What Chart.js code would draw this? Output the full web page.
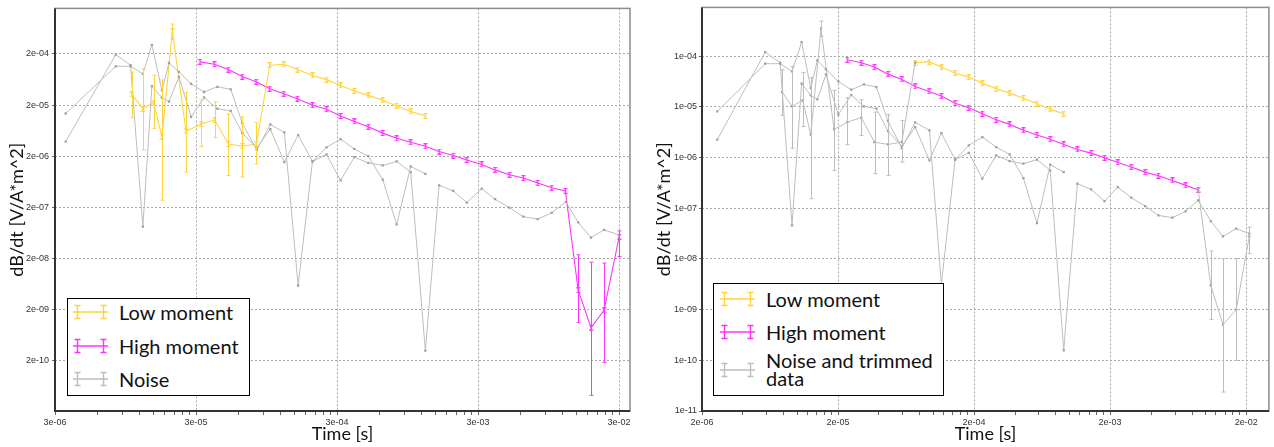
<!DOCTYPE html>
<html>
<head>
<meta charset="utf-8">
<script src="https://cdn.jsdelivr.net/npm/chart.js@4.4.1/dist/chart.umd.min.js"></script>
<style>
  body { margin: 0; background: #fff; width: 1274px; height: 447px; overflow: hidden; position: relative; }
  canvas { position: absolute; top: 0; }
  #chartLeft { left: 0; }
  #chartRight { left: 637px; }
  .legend { position: absolute; background: #fff; border: 1.5px solid #000; box-sizing: border-box;
            font-family: Lato, "Open Sans", sans-serif; font-size: 20px; color: #111; }
  .legend svg { position: absolute; }
  .legend .txt { position: absolute; line-height: 20px; white-space: nowrap; }
</style>
</head>
<body>
<canvas id="chartLeft" width="637" height="447"></canvas>
<canvas id="chartRight" width="637" height="447"></canvas>

<div class="legend" id="legendLeft" style="left:67px; top:298px; width:183px; height:98px;"></div>
<div class="legend" id="legendRight" style="left:713px; top:283px; width:231px; height:113px;"></div>

<script>
// ---- left panel: all data ----
const timeNoiseLeft = [3.57e-6, 8.09e-6, 1.03e-5, 1.26e-5, 1.46e-5, 1.72e-5, 1.93e-5, 2.27e-5, 2.77e-5, 3.42e-5,
  4.25e-5, 5.29e-5, 6.39e-5, 8.1e-5, 1.01e-4, 1.27e-4, 1.59e-4, 2.01e-4, 2.53e-4, 3.18e-4,
  3.98e-4, 5.0e-4, 6.33e-4, 7.95e-4, 1.0e-3, 1.27e-3, 1.59e-3, 2.0e-3, 2.5e-3, 3.19e-3,
  3.96e-3, 5.0e-3, 6.29e-3, 7.95e-3, 1.0e-2, 1.26e-2, 1.54e-2, 1.90e-2, 2.35e-2, 3.01e-2];
const noiseLmLeft = [1.37e-5, 1.15e-4, 1.15e-4, 8.18e-5, 3.03e-4, 3.87e-5, 1.34e-4, 8.94e-5, 5.23e-5, 3.61e-5,
  4.57e-5, 4.06e-5, 8.87e-6, 2.65e-6, 8.36e-6, 5.85e-6, 5.9e-9, 1.58e-6, 2.99e-6, 4.34e-6,
  2.77e-6, 2.0e-6, 6.93e-7, 9.27e-8, 1.26e-6, 9.06e-7];
const noiseHmLeft = [3.86e-6, 1.94e-4, 1.21e-4, 8.36e-8, 4.72e-5, 2.80e-5, 2.34e-5, 7.15e-5, 1.18e-5, 2.83e-5,
  1.71e-5, 1.54e-5, 5.66e-6, 2.90e-6, 6.78e-6, 1.53e-6, 5.19e-6, 1.58e-6, 2.16e-6, 6.75e-7,
  1.91e-6, 1.48e-6, 1.32e-6, 1.58e-6, 9.77e-7, 3.13e-10, 5.40e-7, 4.18e-7, 2.48e-7, 4.63e-7,
  2.88e-7, 1.98e-7, 1.31e-7, 1.18e-7, 1.56e-7, 2.56e-7, 1.01e-7, 5.12e-8, 7.21e-8, 5.77e-8];

const timeLmLeft = [1.05e-5, 1.26e-5, 1.50e-5, 1.72e-5, 2.04e-5, 2.55e-5, 3.26e-5, 4.06e-5, 5.10e-5, 6.39e-5,
  8.04e-5, 1.0e-4, 1.26e-4, 1.57e-4, 2.01e-4, 2.53e-4, 3.18e-4, 3.98e-4, 5.0e-4, 6.33e-4,
  7.95e-4, 1.0e-3, 1.27e-3];
const lowMomentLeft = [3.24e-5, 1.71e-5, 2.24e-5, 4.83e-6, 5.52e-4, 6.1e-6, 8.5e-6, 1.03e-5, 3.47e-6, 3.13e-6,
  3.47e-6, 1.21e-4, 1.26e-4, 9.9e-5, 7.6e-5, 6.3e-5, 4.85e-5, 3.77e-5, 3.10e-5, 2.48e-5,
  1.93e-5, 1.50e-5, 1.23e-5];
const lowErrLoLeft = [1.14e-5, 2.65e-6, 7.0e-6, 2.76e-7, 3.9e-4, 9.8e-7, 3.08e-6, 4.68e-6, 8.4e-7, 7.8e-7,
  1.42e-6, null, null, null, null, null, null, null, null, null, null, null, null];
const lowErrHiLeft = [8.8e-5, 1.02e-4, 7.7e-5, 6.2e-5, 7.7e-4, 3.5e-5, 2.52e-5, 2.31e-5, 1.32e-5, 1.18e-5,
  9.1e-6, null, null, null, null, null, null, null, null, null, null, null, null];

const timeHmLeft = [3.20e-5, 4.05e-5, 5.08e-5, 6.39e-5, 8.0e-5, 1.0e-4, 1.26e-4, 1.57e-4, 2.01e-4, 2.53e-4,
  3.18e-4, 3.98e-4, 5.0e-4, 6.33e-4, 7.95e-4, 1.0e-3, 1.27e-3, 1.59e-3, 2.0e-3, 2.5e-3,
  3.19e-3, 3.96e-3, 5.0e-3, 6.29e-3, 7.95e-3, 1.0e-2, 1.25e-2, 1.54e-2, 1.90e-2, 2.35e-2, 3.01e-2];
const highMomentLeft = [1.40e-4, 1.26e-4, 9.9e-5, 7.25e-5, 5.72e-5, 4.18e-5, 3.34e-5, 2.67e-5, 1.98e-5, 1.66e-5,
  1.23e-5, 9.57e-6, 7.55e-6, 5.66e-6, 4.48e-6, 3.74e-6, 3.13e-6, 2.47e-6, 2.06e-6, 1.69e-6,
  1.38e-6, 1.08e-6, 8.67e-7, 7.48e-7, 5.98e-7, 4.84e-7, 4.18e-7, 4.79e-9, 8.87e-10, 1.93e-9, 5.35e-8];
const highErrLoLeft = [null, null, null, null, null, null, null, null, null, null, null, null, null, null,
  null, null, null, null, null, null, null, null, null, null, null, null, null, 1.11e-9, 4.18e-11, 1.85e-10, 2.19e-8];
const highErrHiLeft = [null, null, null, null, null, null, null, null, null, null, null, null, null, null,
  null, null, null, null, null, null, null, null, null, null, null, null, null, 2.36e-8, 1.69e-8, 1.62e-8, 6.9e-8];

const xTicksLeft = [3e-6, 3e-5, 3e-4, 3e-3, 3e-2];
const xLabelsLeft = ['3e-06', '3e-05', '3e-04', '3e-03', '3e-02'];
const yTicksLeft = [2e-10, 2e-9, 2e-8, 2e-7, 2e-6, 2e-5, 2e-4];
const yLabelsLeft = ['2e-10', '2e-09', '2e-08', '2e-07', '2e-06', '2e-05', '2e-04'];

// ---- right panel: trimmed ----
const timeNoiseRight = [2.59e-6, 5.83e-6, 7.51e-6, 9.18e-6, 1.08e-5, 1.26e-5, 1.41e-5, 1.63e-5, 2.01e-5, 2.50e-5,
  3.10e-5, 3.83e-5, 4.66e-5, 5.89e-5, 7.38e-5, 9.40e-5, 1.15e-4, 1.45e-4, 1.83e-4, 2.30e-4,
  2.91e-4, 3.65e-4, 4.61e-4, 5.80e-4, 7.26e-4, 9.12e-4, 1.15e-3, 1.45e-3, 1.82e-3, 2.28e-3,
  2.86e-3, 3.62e-3, 4.53e-3, 5.74e-3, 7.18e-3, 8.88e-3, 1.10e-2, 1.35e-2, 1.69e-2, 2.11e-2];
const noiseLmRight = [8.11e-6, 7.08e-5, 7.08e-5, 4.99e-5, 1.89e-4, 2.34e-5, 8.22e-5, 5.47e-5, 3.17e-5, 2.17e-5,
  2.77e-5, 2.45e-5, 5.22e-6, 1.53e-6, 4.92e-6, 3.43e-6, 3.10e-9, 9.06e-7, 1.73e-6, 2.53e-6,
  1.60e-6, 1.15e-6, 3.93e-7, 5.08e-8, 7.21e-7, 5.15e-7];
const noiseHmRight = [2.24e-6, 1.20e-4, 7.41e-5, 4.58e-8, 2.86e-5, 1.68e-5, 1.40e-5, 4.36e-5, 6.99e-6, 1.70e-5,
  1.02e-5, 9.18e-6, 3.32e-6, 1.68e-6, 3.98e-6, 8.77e-7, 3.03e-6, 9.06e-7, 1.24e-6, 3.82e-7,
  1.10e-6, 8.49e-7, 7.55e-7, 9.06e-7, 5.57e-7, 1.57e-10, 3.04e-7, 2.35e-7, 1.38e-7, 2.61e-7,
  1.61e-7, 1.10e-7, 7.21e-8, 6.50e-8, 8.65e-8, 1.43e-7, 5.57e-8, 2.78e-8, 3.94e-8, 3.14e-8];

const timeLmRight = [7.76e-6, 9.18e-6, 1.10e-5, 1.26e-5, 1.50e-5, 1.87e-5, 2.34e-5, 2.96e-5, 3.71e-5, 4.66e-5,
  5.89e-5, 7.38e-5, 9.34e-5, 1.15e-4, 1.45e-4, 1.83e-4, 2.30e-4, 2.91e-4, 3.65e-4, 4.61e-4,
  5.80e-4, 7.26e-4, 9.12e-4];
const lowMomentRight = [1.95e-5, 1.02e-5, 1.34e-5, 2.82e-6, 3.47e-4, 3.58e-6, 4.99e-6, 6.10e-6, 2.01e-6, 1.81e-6,
  2.01e-6, 7.41e-5, 7.76e-5, 6.07e-5, 4.62e-5, 3.85e-5, 2.93e-5, 2.27e-5, 1.86e-5, 1.48e-5,
  1.15e-5, 8.89e-6, 7.31e-6];
const lowErrLoRight = [6.77e-6, 1.53e-6, 4.10e-6, 1.54e-7, 2.45e-4, 5.57e-7, 1.79e-6, 2.73e-6, 4.79e-7, 4.44e-7,
  8.11e-7, null, null, null, null, null, null, null, null, null, null, null, null];
const lowErrHiRight = [5.39e-5, 6.26e-5, 4.71e-5, 3.75e-5, 4.90e-4, 2.11e-5, 1.51e-5, 1.38e-5, 7.86e-6, 6.99e-6,
  5.39e-6, null, null, null, null, null, null, null, null, null, null, null, null];
const lowFirstKeptRight = 11;

const timeHmRight = [2.34e-5, 2.96e-5, 3.71e-5, 4.66e-5, 5.89e-5, 7.38e-5, 9.34e-5, 1.15e-4, 1.45e-4, 1.83e-4,
  2.30e-4, 2.91e-4, 3.65e-4, 4.61e-4, 5.80e-4, 7.26e-4, 9.12e-4, 1.15e-3, 1.45e-3, 1.82e-3,
  2.28e-3, 2.86e-3, 3.62e-3, 4.53e-3, 5.74e-3, 7.18e-3, 8.88e-3, 1.10e-2, 1.35e-2, 1.69e-2, 2.11e-2];
const highMomentRight = [8.49e-5, 7.41e-5, 6.07e-5, 4.41e-5, 3.47e-5, 2.52e-5, 2.01e-5, 1.63e-5, 1.18e-5, 9.59e-6,
  7.31e-6, 5.57e-6, 4.50e-6, 3.43e-6, 2.77e-6, 2.28e-6, 1.81e-6, 1.44e-6, 1.22e-6, 9.91e-7,
  8.0e-7, 6.47e-7, 5.15e-7, 4.38e-7, 3.53e-7, 2.82e-7, 2.32e-7, 3.0e-9, 5.04e-10, 9.95e-10, 2.78e-8];
const highErrLoRight = [null, null, null, null, null, null, null, null, null, null, null, null, null, null,
  null, null, null, null, null, null, null, null, null, null, null, null, null, 6.41e-10, 2.36e-11, 9.95e-11, 1.27e-8];
const highErrHiRight = [null, null, null, null, null, null, null, null, null, null, null, null, null, null,
  null, null, null, null, null, null, null, null, null, null, null, null, null, 1.43e-8, 1.01e-8, 1.01e-8, 4.24e-8];
const highLastKeptRight = 26;

const xTicksRight = [2e-6, 2e-5, 2e-4, 2e-3, 2e-2];
const xLabelsRight = ['2e-06', '2e-05', '2e-04', '2e-03', '2e-02'];
const yTicksRight = [1e-11, 1e-10, 1e-9, 1e-8, 1e-7, 1e-6, 1e-5, 1e-4];
const yLabelsRight = ['1e-11', '1e-10', '1e-09', '1e-08', '1e-07', '1e-06', '1e-05', '1e-04'];

// couleurs
const YELLOW = '#ffd43a';
const MAGENTA = '#ff33ff';
const GRAY = '#bdbdbd';
const GRAY_MARK = '#a0a0a0';
const FONT = 'Lato, "Open Sans", sans-serif';

//petit "I" = barre d'erreur minuscule comme marqueur
function capMarker(color) {
    const c = document.createElement('canvas');
    c.width = 5; c.height = 6;
    const g = c.getContext('2d');
    g.strokeStyle = color;
    g.lineWidth = 1.2;
    g.beginPath();
    g.moveTo(2.5, 0.5); g.lineTo(2.5, 5.5);
    g.moveTo(0.5, 0.7); g.lineTo(4.5, 0.7);
    g.moveTo(0.5, 5.3); g.lineTo(4.5, 5.3);
    g.stroke();
    return c;
}

function pts(xs, ys) {
    return xs.map((x, i) => ({ x: x, y: ys[i] }));
}

function graySeries(xs, ys, lo, hi) {
    return {
        data: pts(xs, ys), errLo: lo, errHi: hi,
        showLine: true, borderColor: GRAY, borderWidth: 1,
        pointStyle: 'rect', pointRadius: 1.6, pointBorderWidth: 0,
        pointBackgroundColor: GRAY_MARK, errColor: GRAY
    };
}

function colorSeries(xs, ys, lo, hi, color) {
    return {
        data: pts(xs, ys), errLo: lo, errHi: hi,
        showLine: true, borderColor: color, borderWidth: 1.1,
        pointStyle: capMarker(color), errColor: color
    };
}

//barres d'erreur
const errorBars = {
    id: 'errorBars',
    afterDatasetsDraw(chart) {
        const { ctx, chartArea: a, scales: { x, y } } = chart;
        ctx.save();
        ctx.beginPath();
        ctx.rect(a.left, a.top, a.width, a.height);
        ctx.clip();
        chart.data.datasets.forEach(ds => {
            if (!ds.errLo) return;
            ctx.strokeStyle = ds.errColor;
            ctx.lineWidth = 1;
            ds.data.forEach((p, i) => {
                const lo = ds.errLo[i], hi = ds.errHi[i];
                if (lo == null || hi == null) return;
                const px = Math.round(x.getPixelForValue(p.x)) + 0.5;
                const y1 = y.getPixelForValue(lo), y2 = y.getPixelForValue(hi);
                ctx.beginPath();
                ctx.moveTo(px, y1); ctx.lineTo(px, y2);
                ctx.moveTo(px - 2, y1); ctx.lineTo(px + 2, y1);
                ctx.moveTo(px - 2, y2); ctx.lineTo(px + 2, y2);
                ctx.stroke();
            });
        });
        ctx.restore();
    }
};

//cadre du graphique
const frame = {
    id: 'frame',
    afterDraw(chart) {
        const { ctx, chartArea: a } = chart;
        ctx.save();
        ctx.lineWidth = 1.5;
        ctx.strokeStyle = '#8c8c8c';
        ctx.strokeRect(a.left, a.top, a.width, a.height);
        ctx.lineWidth = 2;
        ctx.strokeStyle = '#333';
        ctx.beginPath();
        ctx.moveTo(a.left, a.top); ctx.lineTo(a.left, a.bottom); ctx.lineTo(a.right, a.bottom);
        ctx.stroke();
        ctx.restore();
    }
};

function labelFor(v, values, labels) {
    const i = values.findIndex(t => Math.abs(Math.log10(t / v)) < 1e-6);
    return i >= 0 ? labels[i] : '';
}

function makeChart(id, cfg) {
    return new Chart(document.getElementById(id), {
        type: 'scatter',
        data: { datasets: cfg.datasets },
        plugins: [errorBars, frame],
        options: {
            responsive: false,
            animation: false,
            events: [],
            layout: { padding: cfg.padding },
            plugins: { legend: { display: false }, tooltip: { enabled: false } },
            scales: {
                x: {
                    type: 'logarithmic', min: cfg.xMin, max: cfg.xMax,
                    afterBuildTicks: (scale) => {
                        const t = [];
                        cfg.xTicks.forEach(m => {
                            for (let k = 1; k <= 9; k++) {
                                if (m * k <= cfg.xMax) t.push({ value: m * k, major: k === 1 });
                            }
                        });
                        scale.ticks = t;
                    },
                    afterFit: (scale) => { scale.height = 36; },
                    ticks: {
                        autoSkip: false, maxRotation: 0, padding: 2, color: '#333',
                        font: { family: '"Liberation Sans", Arial, sans-serif', size: 9 },
                        callback: (v) => labelFor(v, cfg.xTicks, cfg.xLabels)
                    },
                    grid: {
                        color: (c) => (c.tick && c.tick.major) ? '#a8a8a8' : 'rgba(0,0,0,0)',
                        tickColor: '#666', tickLength: 4, lineWidth: 1
                    },
                    border: { display: false, dash: [2, 2] },
                    title: {
                        display: true, text: 'Time [s]', color: '#111',
                        font: { family: FONT, size: 18 }, padding: { top: 0, bottom: 2 }
                    }
                },
                y: {
                    type: 'logarithmic', min: cfg.yMin, max: cfg.yMax,
                    afterBuildTicks: (scale) => {
                        scale.ticks = cfg.yTicks.map(v => ({ value: v, major: true }));
                    },
                    afterFit: (scale) => { scale.width = cfg.yWidth; },
                    ticks: {
                        autoSkip: false, padding: cfg.yLabelPad, color: '#333',
                        font: { family: '"Liberation Sans", Arial, sans-serif', size: 9 },
                        callback: (v) => labelFor(v, cfg.yTicks, cfg.yLabels)
                    },
                    grid: { color: '#a8a8a8', tickColor: '#666', tickLength: 3, lineWidth: 1 },
                    border: { display: false, dash: [2, 2] },
                    title: {
                        display: true, text: 'dB/dt [V/A*m^2]', color: '#111',
                        font: { family: FONT, size: 18 }, padding: { top: cfg.yTitlePad, bottom: 0 }
                    }
                }
            }
        }
    });
}

// graphique de gauche
makeChart('chartLeft', {
    padding: { left: 0, right: 7, top: 5, bottom: 0 },
    xMin: 3e-6, xMax: 3.59e-2, yMin: 2.07e-11, yMax: 1.56e-3,
    xTicks: xTicksLeft, xLabels: xLabelsLeft, yTicks: yTicksLeft, yLabels: yLabelsLeft,
    yWidth: 55, yLabelPad: 3, yTitlePad: 6,
    datasets: [
        graySeries(timeNoiseLeft.slice(0, noiseLmLeft.length), noiseLmLeft),
        graySeries(timeNoiseLeft, noiseHmLeft),
        colorSeries(timeLmLeft, lowMomentLeft, lowErrLoLeft, lowErrHiLeft, YELLOW),
        colorSeries(timeHmLeft, highMomentLeft, highErrLoLeft, highErrHiLeft, MAGENTA)
    ]
});

// graphique de droite (donnees tronquees en gris)
const k1 = lowFirstKeptRight, k2 = highLastKeptRight;
makeChart('chartRight', {
    padding: { left: 0, right: 1, top: 7, bottom: 0 },
    xMin: 2e-6, xMax: 2.94e-2, yMin: 1e-11, yMax: 9.13e-4,
    xTicks: xTicksRight, xLabels: xLabelsRight, yTicks: yTicksRight, yLabels: yLabelsRight,
    yWidth: 65, yLabelPad: 2, yTitlePad: 16,
    datasets: [
        graySeries(timeNoiseRight.slice(0, noiseLmRight.length), noiseLmRight),
        graySeries(timeNoiseRight, noiseHmRight),
        graySeries(timeLmRight.slice(0, k1 + 1), lowMomentRight.slice(0, k1 + 1),
            lowErrLoRight.slice(0, k1 + 1), lowErrHiRight.slice(0, k1 + 1)),
        graySeries(timeHmRight.slice(k2), highMomentRight.slice(k2),
            highErrLoRight.slice(k2), highErrHiRight.slice(k2)),
        colorSeries(timeLmRight.slice(k1), lowMomentRight.slice(k1), null, null, YELLOW),
        colorSeries(timeHmRight.slice(0, k2 + 1), highMomentRight.slice(0, k2 + 1), null, null, MAGENTA)
    ]
});

// legendes (html)
function sample(color) {
    return '<svg width="36" height="16" viewBox="0 0 36 16"><path fill="none" stroke="' + color +
        '" stroke-width="1.4" d="M0 8H35M4.5 1.5V14.5M1.5 1.5H7.5M1.5 14.5H7.5M30.5 1.5V14.5M27.5 1.5H33.5M27.5 14.5H33.5"/></svg>';
}

function buildLegend(id, rows, sampleLeft, textLeft) {
    const box = document.getElementById(id);
    rows.forEach(r => {
        const s = document.createElement('div');
        s.innerHTML = sample(r.color);
        s.firstChild.style.left = sampleLeft + 'px';
        s.firstChild.style.top = (r.symbolY - 8) + 'px';
        box.appendChild(s.firstChild);
        const t = document.createElement('div');
        t.className = 'txt';
        t.style.left = textLeft + 'px';
        t.style.top = (r.textY - 10) + 'px';
        if (r.lineHeight) t.style.lineHeight = r.lineHeight + 'px';
        t.innerHTML = r.label;
        box.appendChild(t);
    });
}

buildLegend('legendLeft', [
    { label: 'Low moment', color: YELLOW, symbolY: 13, textY: 12.5 },
    { label: 'High moment', color: MAGENTA, symbolY: 47, textY: 46.5 },
    { label: 'Noise', color: GRAY, symbolY: 80, textY: 79.5 }
], 5, 51);

buildLegend('legendRight', [
    { label: 'Low moment', color: YELLOW, symbolY: 15, textY: 14.5 },
    { label: 'High moment', color: MAGENTA, symbolY: 48, textY: 47.5 },
    { label: 'Noise and trimmed<br>data', color: GRAY, symbolY: 86, textY: 78, lineHeight: 17.5 }
], 6, 52);
</script>
</body>
</html>
